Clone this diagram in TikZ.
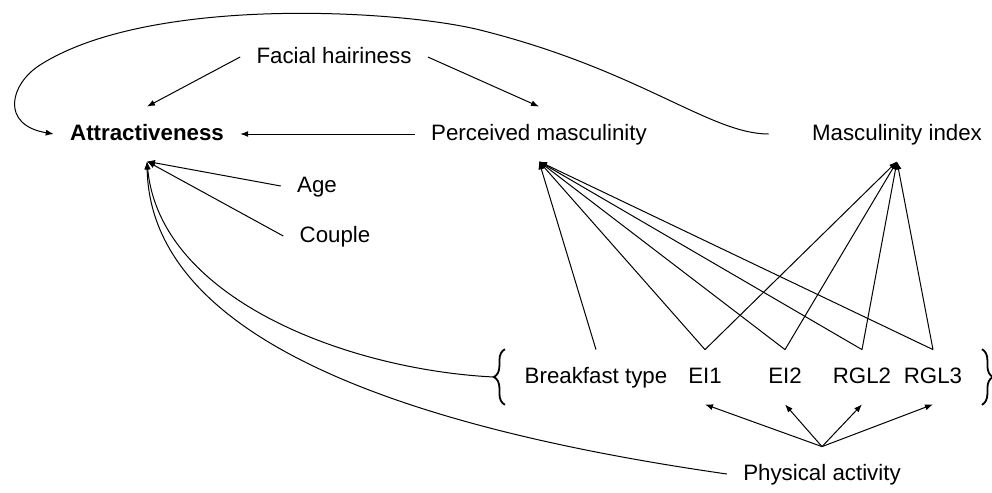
\documentclass[tikz,border=0pt]{standalone}
\usepackage{fontspec}
\setsansfont{Liberation Sans}
\usetikzlibrary{arrows.meta, fit, decorations.pathreplacing}

\begin{document}
\begin{tikzpicture}[x=0.5pt,y=-0.5pt,font=\sffamily\fontsize{11.15pt}{13pt}\selectfont,
  var/.style={inner xsep=8pt, inner ysep=8.5pt, text height=8pt, text depth=2pt},
  link/.style={line width=0.5pt, -{Latex[length=4pt,width=3pt]}},
  curly/.style={line width=0.9pt, decorate, decoration={brace,amplitude=5.5pt}}]

\useasboundingbox (0,0) rectangle (992,493);

% Variables
\node[var] (facial) at (334,57) {Facial hairiness};
\node[var] (attr) at (147,134) {\bfseries Attractiveness};
\node[var] (perc) at (539,134) {Perceived masculinity};
\node[var] (mindex) at (897,134) {Masculinity index};
\node[var] (age) at (317,186) {Age};
\node[var] (couple) at (335,236) {Couple};

% Breakfast and exercise block
\node[var] (bt) at (596,377) {Breakfast type};
\node[var] (ei1) at (705,377) {EI1};
\node[var] (ei2) at (785,377) {EI2};
\node[var] (rgl2) at (862,377) {RGL2};
\node[var] (rgl3) at (933,377) {RGL3};
\node[var] (pact) at (822,474) {Physical activity};

\node[fit=(bt)(rgl3), inner sep=0pt, inner xsep=1.5pt] (group) {};
\draw[curly] (group.south west) -- (group.north west);
\draw[curly] (group.north east) -- (group.south east);
\coordinate (bracetip) at ([xshift=-5.5pt]group.west);

% Paths
\draw[link] (facial.west) -- (attr.north);
\draw[link] (facial.east) -- (perc.north);
\draw[link] (perc.west) -- (attr.east);
\draw[link] (age.west) -- (attr.south);
\draw[link] (couple.west) -- (attr.south);
\draw[link] ([xshift=-13.5pt]mindex.west) .. controls (710,134) and (640,70) .. (480,30)
  .. controls (400,10) and (150,-5) .. (40,65) .. controls (10,84) and (0,125) .. (attr.west);
\draw[link] (bracetip) .. controls (350,370) and (160,300) .. (attr.south);
\draw[link] (pact.west) .. controls (350,420) and (150,320) .. (attr.south);

\foreach \v in {bt,ei1,ei2,rgl2,rgl3}
  \draw[link] (\v.north) -- (perc.south);
\foreach \v in {ei1,ei2,rgl2,rgl3}
  \draw[link] (\v.north) -- (mindex.south);
\foreach \v in {ei1,ei2,rgl2,rgl3}
  \draw[link] (pact.north) -- (\v.south);
\end{tikzpicture}
\end{document}
